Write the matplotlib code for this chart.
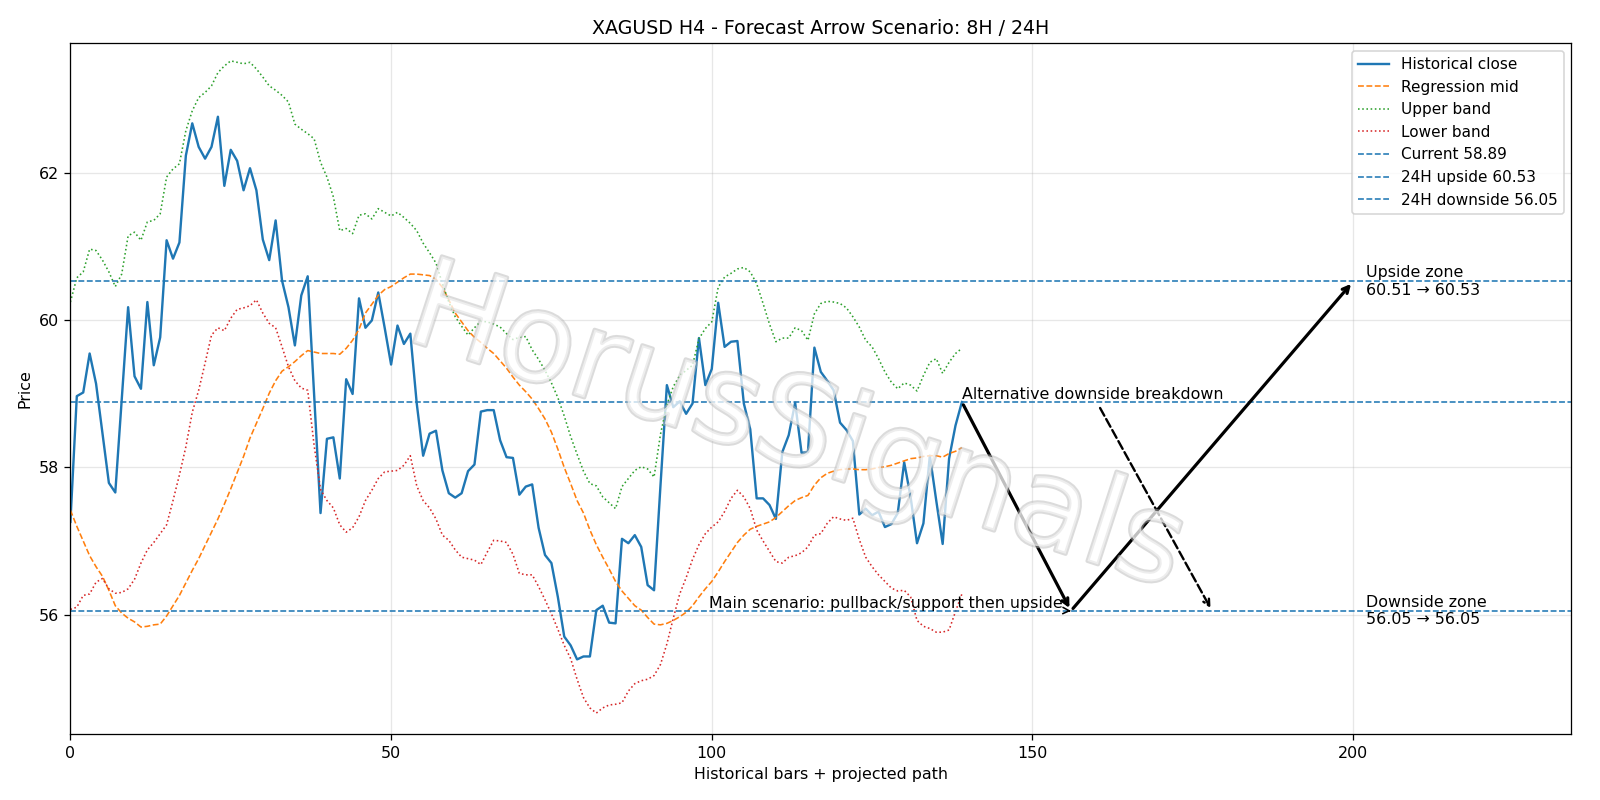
import matplotlib
matplotlib.use("Agg")
import matplotlib.pyplot as plt
import matplotlib.patheffects as pe
import numpy as np

close = [57.26, 58.97, 59.02, 59.55, 59.14, 58.46, 57.79, 57.66, 58.92, 60.18,
         59.24, 59.07, 60.25, 59.39, 59.77, 61.09, 60.84, 61.06, 62.24, 62.68,
         62.36, 62.20, 62.36, 62.77, 61.83, 62.32, 62.17, 61.77, 62.07, 61.77,
         61.10, 60.82, 61.36, 60.54, 60.18, 59.66, 60.34, 60.60, 59.00, 57.38,
         58.39, 58.41, 57.85, 59.20, 59.00, 60.30, 59.90, 60.00, 60.38, 59.90,
         59.40, 59.93, 59.68, 59.82, 58.87, 58.16, 58.46, 58.50, 57.96, 57.65,
         57.59, 57.65, 57.95, 58.04, 58.76, 58.78, 58.78, 58.37, 58.14, 58.13,
         57.63, 57.74, 57.77, 57.18, 56.81, 56.70, 56.24, 55.70, 55.58, 55.39,
         55.43, 55.43, 56.06, 56.12, 55.89, 55.88, 57.03, 56.97, 57.08, 56.92,
         56.40, 56.33, 57.75, 59.12, 58.82, 58.90, 58.73, 58.87, 59.76, 59.12,
         59.34, 60.24, 59.64, 59.71, 59.72, 58.87, 58.52, 57.58, 57.58, 57.49,
         57.30, 58.21, 58.44, 58.88, 58.20, 58.21, 59.63, 59.30, 59.18, 59.05,
         58.61, 58.51, 58.36, 57.36, 57.44, 57.35, 57.40, 57.19, 57.23, 57.38,
         58.07, 57.60, 56.97, 57.24, 58.16, 57.55, 56.96, 58.12, 58.57, 58.89]

reg_mid = [57.42, 57.20, 57.00, 56.80, 56.65, 56.52, 56.33, 56.12, 56.02, 55.95,
           55.90, 55.83, 55.84, 55.86, 55.87, 55.98, 56.12, 56.26, 56.43, 56.60,
           56.76, 56.94, 57.12, 57.30, 57.50, 57.71, 57.93, 58.15, 58.40, 58.60,
           58.80, 59.01, 59.18, 59.31, 59.37, 59.44, 59.52, 59.59, 59.57, 59.55,
           59.55, 59.55, 59.54, 59.62, 59.73, 59.88, 60.10, 60.22, 60.34, 60.42,
           60.46, 60.52, 60.58, 60.63, 60.63, 60.62, 60.61, 60.56, 60.45, 60.28,
           60.10, 59.98, 59.86, 59.77, 59.70, 59.62, 59.55, 59.45, 59.35, 59.23,
           59.12, 59.03, 58.93, 58.80, 58.66, 58.48, 58.25, 58.00, 57.78, 57.55,
           57.38, 57.15, 56.95, 56.78, 56.62, 56.45, 56.32, 56.22, 56.12, 56.06,
           55.96, 55.87, 55.86, 55.88, 55.92, 55.97, 56.03, 56.12, 56.24, 56.35,
           56.45, 56.58, 56.72, 56.85, 56.98, 57.08, 57.16, 57.20, 57.23, 57.26,
           57.32, 57.40, 57.48, 57.55, 57.59, 57.62, 57.76, 57.86, 57.92, 57.95,
           57.97, 57.98, 57.98, 57.97, 57.97, 57.98, 58.00, 58.01, 58.03, 58.06,
           58.09, 58.12, 58.13, 58.15, 58.16, 58.16, 58.14, 58.19, 58.22, 58.27]

upper_band = [60.25, 60.58, 60.66, 60.97, 60.95, 60.82, 60.66, 60.46, 60.63, 61.15,
              61.20, 61.09, 61.34, 61.36, 61.45, 61.95, 62.06, 62.13, 62.58, 62.85,
              63.03, 63.10, 63.19, 63.37, 63.46, 63.53, 63.51, 63.49, 63.51, 63.42,
              63.31, 63.19, 63.13, 63.06, 62.97, 62.67, 62.60, 62.54, 62.47, 62.15,
              61.95, 61.68, 61.22, 61.25, 61.18, 61.43, 61.45, 61.38, 61.52, 61.47,
              61.42, 61.47, 61.40, 61.32, 61.22, 61.05, 60.92, 60.78, 60.50, 60.25,
              60.05, 59.92, 59.80, 59.90, 59.99, 59.98, 59.95, 59.91, 59.82, 59.74,
              59.77, 59.78, 59.60, 59.47, 59.32, 59.15, 58.95, 58.70, 58.42, 58.18,
              57.95, 57.78, 57.75, 57.60, 57.52, 57.44, 57.74, 57.85, 57.96, 58.01,
              57.98, 57.87, 58.45, 58.85, 59.10, 59.25, 59.32, 59.39, 59.75, 59.89,
              59.98, 60.45, 60.59, 60.64, 60.70, 60.72, 60.66, 60.50, 60.23, 59.95,
              59.71, 59.76, 59.76, 59.90, 59.86, 59.73, 60.09, 60.23, 60.26, 60.25,
              60.23, 60.17, 60.05, 59.91, 59.73, 59.64, 59.48, 59.30, 59.16, 59.07,
              59.15, 59.12, 59.04, 59.25, 59.43, 59.48, 59.28, 59.43, 59.55, 59.62]

lower_band = [56.07, 56.10, 56.26, 56.28, 56.44, 56.49, 56.35, 56.29, 56.30, 56.35,
              56.48, 56.70, 56.88, 56.98, 57.10, 57.22, 57.55, 57.90, 58.28, 58.75,
              59.05, 59.42, 59.80, 59.90, 59.86, 60.03, 60.15, 60.17, 60.20, 60.28,
              60.10, 59.96, 59.90, 59.64, 59.37, 59.18, 59.08, 59.05, 58.30, 57.70,
              57.55, 57.45, 57.22, 57.12, 57.18, 57.33, 57.55, 57.69, 57.85, 57.94,
              57.95, 57.96, 58.03, 58.16, 57.75, 57.55, 57.45, 57.30, 57.08, 57.01,
              56.88, 56.78, 56.76, 56.74, 56.68, 56.85, 57.01, 57.00, 56.98, 56.82,
              56.56, 56.54, 56.54, 56.38, 56.20, 56.01, 55.80, 55.58, 55.40, 55.12,
              54.87, 54.73, 54.66, 54.73, 54.77, 54.78, 54.80, 54.96, 55.06, 55.10,
              55.12, 55.17, 55.32, 55.60, 55.95, 56.28, 56.50, 56.75, 56.95, 57.10,
              57.19, 57.26, 57.40, 57.58, 57.69, 57.60, 57.44, 57.15, 57.00, 56.86,
              56.72, 56.70, 56.78, 56.80, 56.84, 56.92, 57.08, 57.10, 57.24, 57.33,
              57.30, 57.28, 57.31, 57.02, 56.78, 56.65, 56.54, 56.45, 56.36, 56.32,
              56.33, 56.24, 55.92, 55.84, 55.81, 55.76, 55.76, 55.79, 56.04, 56.28]

current_price = 58.89
upside_24h = 60.53
downside_24h = 56.05
upside_zone = (60.51, 60.53)
downside_zone = (56.05, 56.05)
bar_now = 139
bar_8h = 156
bar_24h = 200
bar_alt = 178

x = np.arange(len(close))

fig, ax = plt.subplots(figsize=(14, 7), dpi=1600 / 14)
fig.subplots_adjust(left=0.044, right=0.982, top=0.946, bottom=0.082)

ax.plot(x, close, color="#1f77b4", lw=1.5, label="Historical close")
ax.plot(x, reg_mid, color="#ff7f0e", lw=1.0, ls="--", label="Regression mid")
ax.plot(x, upper_band, color="#2ca02c", lw=1.0, ls=":", label="Upper band")
ax.plot(x, lower_band, color="#d62728", lw=1.0, ls=":", label="Lower band")
ax.axhline(current_price, color="#1f77b4", lw=1.0, ls="--", label=f"Current {current_price:.2f}")
ax.axhline(upside_24h, color="#1f77b4", lw=1.0, ls="--", label=f"24H upside {upside_24h:.2f}")
ax.axhline(downside_24h, color="#1f77b4", lw=1.0, ls="--", label=f"24H downside {downside_24h:.2f}")

# main scenario arrows
ax.annotate("", xy=(bar_8h, downside_24h), xytext=(bar_now, current_price),
            arrowprops=dict(arrowstyle="->", lw=2.0, color="black"))
ax.annotate("", xy=(bar_24h, upside_24h), xytext=(bar_8h, downside_24h),
            arrowprops=dict(arrowstyle="->", lw=2.0, color="black"))
ax.annotate("Main scenario: pullback/support then upside", xy=(bar_8h, downside_24h),
            xytext=(bar_8h - 1.2, downside_24h), ha="right", va="bottom", fontsize=10,
            arrowprops=dict(arrowstyle="->", lw=1.0, color="black"))
ax.annotate("Alternative downside breakdown", xy=(bar_alt, downside_24h),
            xytext=(bar_now, current_price), ha="left", va="bottom", fontsize=10,
            arrowprops=dict(arrowstyle="->", lw=1.5, ls="--", color="black"))

ax.text(bar_24h + 2, upside_24h, f"Upside zone\n{upside_zone[0]:.2f} \u2192 {upside_zone[1]:.2f}",
        ha="left", va="center", fontsize=10)
ax.text(bar_24h + 2, downside_24h, f"Downside zone\n{downside_zone[0]:.2f} \u2192 {downside_zone[1]:.2f}",
        ha="left", va="center", fontsize=10)

# watermark
ax.text(0.484, 0.44, "HorusSignals", transform=ax.transAxes, ha="center", va="center",
        fontsize=78, rotation=-18, color="white", alpha=0.5, zorder=10,
        path_effects=[pe.withStroke(linewidth=2.5, foreground="#b8b8b8")])

ax.set_xlim(0, 234)
ax.set_ylim(54.37, 63.77)
ax.set_xticks([0, 50, 100, 150, 200])
ax.set_yticks([56, 58, 60, 62])
ax.grid(True, alpha=0.3)
ax.set_title("XAGUSD H4 - Forecast Arrow Scenario: 8H / 24H", fontsize=12)
ax.set_xlabel("Historical bars + projected path")
ax.set_ylabel("Price")
ax.legend(loc="upper right", fontsize=9.6)

fig.savefig("out.png", dpi=1600 / 14)
